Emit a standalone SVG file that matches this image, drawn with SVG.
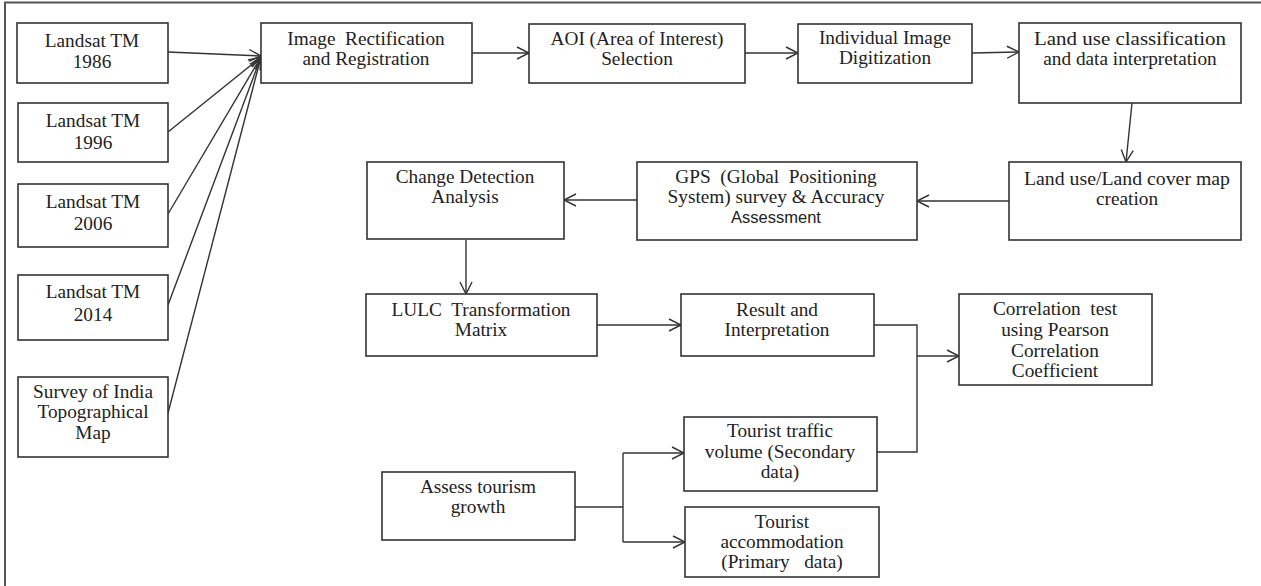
<svg xmlns="http://www.w3.org/2000/svg" width="1261" height="586" viewBox="0 0 1261 586">
<style>
.box{fill:#fff;stroke:#333;stroke-width:1.6}
.t{font-family:"Liberation Serif","Times New Roman",serif;font-size:19.3px;fill:#222;text-anchor:middle;white-space:pre}
.s{font-family:"Liberation Sans",Arial,sans-serif;font-size:16.5px}
.c{fill:none;stroke:#333;stroke-width:1.4}
.frame{fill:none;stroke:#555;stroke-width:2}
</style>
<defs>
<marker id="a" markerUnits="userSpaceOnUse" markerWidth="14" markerHeight="14" refX="12" refY="6" orient="auto" overflow="visible">
<path d="M0,0 L12,6 L0,12" fill="none" stroke="#333" stroke-width="1.4"/>
</marker>
</defs>
<rect width="1261" height="586" fill="#fff"/>
<path class="frame" d="M5,586 V2.5 H1261"/>
<g id="connectors">
<line class="c" x1="168" y1="52" x2="261" y2="56" marker-end="url(#a)"/>
<line class="c" x1="168" y1="132" x2="261" y2="57" marker-end="url(#a)"/>
<line class="c" x1="168" y1="214" x2="261" y2="57" marker-end="url(#a)"/>
<line class="c" x1="168" y1="305" x2="261" y2="57" marker-end="url(#a)"/>
<line class="c" x1="168" y1="413" x2="261" y2="57" marker-end="url(#a)"/>
<line class="c" x1="472" y1="53" x2="529" y2="53" marker-end="url(#a)"/>
<line class="c" x1="745" y1="53" x2="798" y2="53" marker-end="url(#a)"/>
<line class="c" x1="972" y1="53" x2="1019" y2="52" marker-end="url(#a)"/>
<line class="c" x1="1132" y1="103" x2="1126" y2="162" marker-end="url(#a)"/>
<line class="c" x1="1009" y1="201" x2="917" y2="201" marker-end="url(#a)"/>
<line class="c" x1="637" y1="200" x2="564" y2="200" marker-end="url(#a)"/>
<line class="c" x1="466" y1="240" x2="466" y2="294" marker-end="url(#a)"/>
<line class="c" x1="597" y1="325" x2="681" y2="325" marker-end="url(#a)"/>
<path class="c" d="M874,325 H917 V452 H877"/>
<line class="c" x1="917" y1="356" x2="959" y2="356" marker-end="url(#a)"/>
<path class="c" d="M575,507 H623"/>
<path class="c" d="M623,453 V542"/>
<line class="c" x1="623" y1="453" x2="684" y2="453" marker-end="url(#a)"/>
<line class="c" x1="623" y1="542" x2="685" y2="542" marker-end="url(#a)"/>
</g>
<g id="n1986"><rect class="box" x="17" y="23" width="151" height="60"/><text class="t" x="92" y="47">Landsat TM</text><text class="t" x="92" y="68">1986</text></g>
<g id="n1996"><rect class="box" x="18" y="103" width="150" height="59"/><text class="t" x="93" y="127">Landsat TM</text><text class="t" x="93" y="149">1996</text></g>
<g id="n2006"><rect class="box" x="18" y="184" width="150" height="63"/><text class="t" x="93" y="208">Landsat TM</text><text class="t" x="93" y="230">2006</text></g>
<g id="n2014"><rect class="box" x="18" y="275" width="150" height="65"/><text class="t" x="93" y="298">Landsat TM</text><text class="t" x="93" y="321">2014</text></g>
<g id="nsurvey"><rect class="box" x="18" y="377" width="150" height="80"/><text class="t" x="93" y="398">Survey of India</text><text class="t" x="93" y="418">Topographical</text><text class="t" x="93" y="439">Map</text></g>
<g id="nrect"><rect class="box" x="261" y="23" width="211" height="60"/><text class="t" x="366" y="45">Image  Rectification</text><text class="t" x="366" y="65">and Registration</text></g>
<g id="naoi"><rect class="box" x="529" y="24" width="216" height="59"/><text class="t" x="637" y="45">AOI (Area of Interest)</text><text class="t" x="637" y="65">Selection</text></g>
<g id="ndigit"><rect class="box" x="798" y="24" width="174" height="59"/><text class="t" x="885" y="44">Individual Image</text><text class="t" x="885" y="64">Digitization</text></g>
<g id="nclass"><rect class="box" x="1019" y="23" width="222" height="80"/><text class="t" x="1130" y="45" textLength="192" lengthAdjust="spacingAndGlyphs">Land use classification</text><text class="t" x="1130" y="65">and data interpretation</text></g>
<g id="nmap"><rect class="box" x="1009" y="162" width="232" height="78"/><text class="t" x="1127" y="185" textLength="206" lengthAdjust="spacingAndGlyphs">Land use/Land cover map</text><text class="t" x="1127" y="205">creation</text></g>
<g id="ngps"><rect class="box" x="637" y="162" width="280" height="78"/><text class="t" x="776" y="183">GPS  (Global  Positioning</text><text class="t" x="776" y="203">System) survey &amp; Accuracy</text><text class="t s" x="776" y="223">Assessment</text></g>
<g id="nchange"><rect class="box" x="367" y="162" width="197" height="77"/><text class="t" x="465" y="183">Change Detection</text><text class="t" x="465" y="203">Analysis</text></g>
<g id="nlulc"><rect class="box" x="366" y="294" width="231" height="62"/><text class="t" x="481" y="316">LULC  Transformation</text><text class="t" x="481" y="336">Matrix</text></g>
<g id="nresult"><rect class="box" x="681" y="294" width="193" height="62"/><text class="t" x="777" y="316">Result and</text><text class="t" x="777" y="336">Interpretation</text></g>
<g id="ncorr"><rect class="box" x="959" y="294" width="193" height="91"/><text class="t" x="1055" y="315">Correlation  test</text><text class="t" x="1055" y="336">using Pearson</text><text class="t" x="1055" y="357">Correlation</text><text class="t" x="1055" y="377">Coefficient</text></g>
<g id="ntraffic"><rect class="box" x="684" y="417" width="193" height="74"/><text class="t" x="780" y="437">Tourist traffic</text><text class="t" x="780" y="458">volume (Secondary</text><text class="t" x="780" y="478">data)</text></g>
<g id="nassess"><rect class="box" x="382" y="472" width="193" height="68"/><text class="t" x="478" y="493">Assess tourism</text><text class="t" x="478" y="513">growth</text></g>
<g id="naccom"><rect class="box" x="685" y="507" width="194" height="70"/><text class="t" x="782" y="528">Tourist</text><text class="t" x="782" y="548">accommodation</text><text class="t" x="782" y="568">(Primary   data)</text></g>
</svg>
